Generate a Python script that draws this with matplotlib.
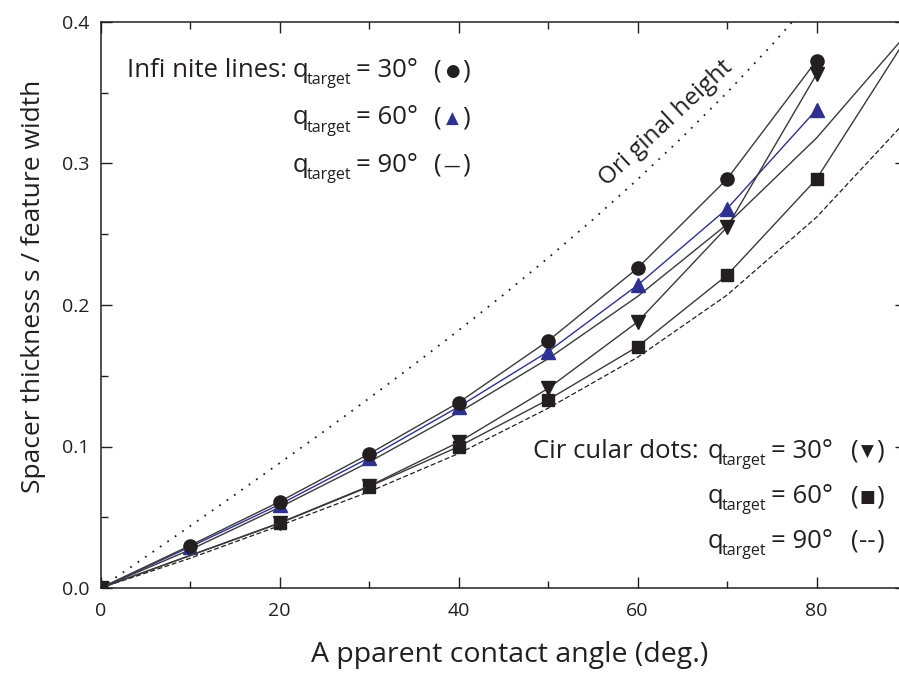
import matplotlib
matplotlib.use("Agg")
import matplotlib.pyplot as plt
from matplotlib.ticker import MultipleLocator

plt.rcParams['font.family'] = ['Open Sans', 'DejaVu Sans']

# ---------------- data ----------------
# Original height (dotted)
orig_x = [0, 5, 10, 15, 20, 25, 30, 35, 40, 45, 50, 55, 60, 65, 70, 75, 80]
orig_y = [0.0, 0.0218, 0.0437, 0.0658, 0.0882, 0.1108, 0.1340, 0.1577, 0.1820,
          0.2071, 0.2332, 0.2603, 0.2887, 0.3185, 0.3501, 0.3837, 0.4196]

# Infinite lines
inf30_x = [0, 10, 20, 30, 40, 50, 60, 70, 80]
inf30_y = [0.0, 0.030, 0.061, 0.0947, 0.131, 0.1746, 0.226, 0.289, 0.3727]
inf60_x = [0, 10, 20, 30, 40, 50, 60, 70, 80]
inf60_y = [0.0, 0.029, 0.059, 0.092, 0.128, 0.167, 0.214, 0.268, 0.338]
inf90_x = [0, 10, 20, 30, 40, 50, 60, 70, 80, 90]
inf90_y = [0.0, 0.027, 0.057, 0.089, 0.124, 0.162, 0.206, 0.257, 0.318, 0.391]

# Circular dots
dot30_x = [0, 20, 30, 40, 50, 60, 70, 80]
dot30_y = [0.0, 0.046, 0.072, 0.103, 0.141, 0.188, 0.255, 0.363]
dot60_x = [0, 20, 30, 40, 50, 60, 70, 80, 90]
dot60_y = [0.0, 0.0457, 0.0716, 0.0999, 0.133, 0.1705, 0.221, 0.289, 0.388]
dot90_x = [0, 10, 20, 30, 40, 50, 60, 70, 80, 90]
dot90_y = [0.0, 0.021, 0.044, 0.068, 0.095, 0.127, 0.163, 0.207, 0.262, 0.330]

x_ticks = [0, 20, 40, 60, 80]
y_ticks = [0.0, 0.1, 0.2, 0.3, 0.4]

# ---------------- style ----------------
INK = '#231f20'
LINE = '#3a3a3a'
BLUE = '#2e3192'
W, H = 899, 675

fig = plt.figure(figsize=(W / 100, H / 100), dpi=100)
ax_left, ax_right, ax_top, ax_bot = 100.5, 906.0, 22.0, 588.0
ax = fig.add_axes([ax_left / W, 1 - ax_bot / H, (ax_right - ax_left) / W, (ax_bot - ax_top) / H])

ax.plot(orig_x, orig_y, linestyle=(0, (1, 4)), lw=1.3, color=INK, zorder=2)
ax.plot(dot90_x, dot90_y, linestyle=(0, (4, 2)), lw=0.9, color=INK, zorder=2)
ax.plot(inf90_x, inf90_y, '-', lw=1.0, color=LINE, zorder=2)
ax.plot(dot60_x, dot60_y, '-', lw=1.0, color=LINE, marker='s', ms=8.5,
        mfc=INK, mec=INK, zorder=3)
ax.plot(dot30_x, dot30_y, '-', lw=1.0, color=LINE, marker='v', ms=10,
        mfc=INK, mec=INK, zorder=4)
ax.plot(inf60_x, inf60_y, '-', lw=1.0, color=BLUE, marker='^', ms=10,
        mfc=BLUE, mec=BLUE, zorder=3)
ax.plot(inf30_x, inf30_y, '-', lw=1.0, color=LINE, marker='o', ms=9.5,
        mfc=INK, mec=INK, zorder=3)

ax.set_xlim(0, 90)
ax.set_ylim(0, 0.4)
ax.set_xticks(x_ticks)
ax.set_xticklabels([str(v) for v in x_ticks])
ax.set_yticks(y_ticks)
ax.set_yticklabels([f"{v:.1f}" for v in y_ticks])
ax.xaxis.set_minor_locator(MultipleLocator(10))
ax.yaxis.set_minor_locator(MultipleLocator(0.05))
ax.tick_params(which='both', direction='in', top=True, right=True,
               color=INK, width=1.0, labelcolor=INK, labelsize=14)
ax.tick_params(which='major', length=8)
ax.tick_params(which='minor', length=5)
ax.tick_params(axis='y', pad=8)
ax.tick_params(axis='x', pad=10)
for s in ax.spines.values():
    s.set_color(INK)
    s.set_linewidth(1.1)

ax.set_xlabel('A pparent contact angle (deg.)', fontsize=20.5, color=INK)
ax.set_ylabel('Spacer thickness s / feature width', fontsize=19, color=INK)
ax.xaxis.set_label_coords((510 - ax_left) / (ax_right - ax_left), -(655 - ax_bot) / (ax_bot - ax_top))
ax.xaxis.label.set_va('center')
ax.yaxis.set_label_coords(-(ax_left - 34) / (ax_right - ax_left), (ax_bot - 286) / (ax_bot - ax_top))
ax.yaxis.label.set_va('center')


def ftext(x, y, s, **kw):
    kw.setdefault('color', INK)
    kw.setdefault('va', 'baseline')
    kw.setdefault('ha', 'left')
    return fig.text(x / W, 1 - y / H, s, **kw)


FS = 18.5
SUB = 11.5


def qrow(xq, yb, val):
    ftext(xq, yb, 'q', fontsize=FS)
    ftext(xq + 14, yb + 7, 'target', fontsize=SUB)
    ftext(xq + 63, yb, '= ' + val + '\u00b0', fontsize=FS)


# Infinite lines block
ftext(127, 77, 'Infi nite lines:', fontsize=FS)
rows1 = [('30', '\u25cf', INK), ('60', '\u25b2', BLUE), ('90', '\u2014', INK)]
for i, (v, sym, c) in enumerate(rows1):
    yb = 77 + 47.5 * i
    qrow(293, yb, v)
    ftext(434, yb, '(', fontsize=FS)
    ftext(452, yb - 1, sym, fontsize=12, ha='center', color=c,
          family=['DejaVu Sans'])
    ftext(470, yb, ')', fontsize=FS, ha='right')

# Circular dots block
ftext(533, 458, 'Cir cular dots:', fontsize=FS)
rows2 = [('30', '\u25bc'), ('60', '\u25a0'), ('90', '--')]
for i, (v, sym) in enumerate(rows2):
    yb = 458 + 45 * i
    qrow(708, yb, v)
    ftext(851, yb, '(', fontsize=FS)
    if sym == '--':
        ftext(867, yb, sym, fontsize=FS, ha='center')
    else:
        ftext(867, yb - 1, sym, fontsize=12, ha='center', family=['DejaVu Sans'])
    ftext(884, yb, ')', fontsize=FS, ha='right')

ftext(666, 123, 'Ori ginal height', fontsize=17.5, rotation=43,
      ha='center', va='center', rotation_mode='anchor')

fig.savefig('out.png', dpi=100)
